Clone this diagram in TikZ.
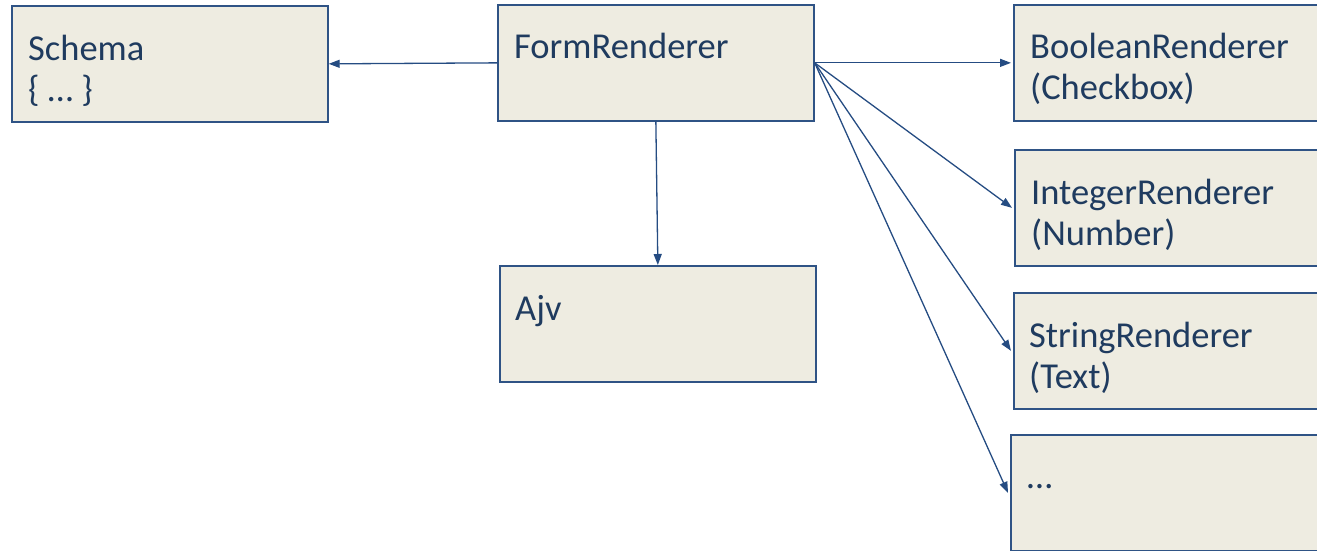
\documentclass[tikz,border=0pt]{standalone}
\usepackage{fontspec}
\setmainfont{Carlito}
\usetikzlibrary{arrows.meta}
\definecolor{boxfill}{HTML}{EEECE1}
\definecolor{boxline}{HTML}{2F5385}
\definecolor{txtcol}{HTML}{1F3B5F}
\definecolor{arrcol}{HTML}{254C82}
\tikzset{
  box/.style={draw=boxline, fill=boxfill, line width=1.7pt, minimum width=316pt, minimum height=116pt, anchor=north west, inner sep=0pt},
  txt/.style={anchor=base west, inner sep=0pt, text=txtcol, font=\fontsize{36.5}{41}\selectfont},
  conn/.style={draw=arrcol, line width=1.3pt, -{Triangle[length=11pt,width=8pt]}}
}
\begin{document}
\begin{tikzpicture}[x=1pt,y=-1pt]
\path[use as bounding box, clip] (0,0) rectangle (1317,551);
\node[box] (schema) at (11,5) {};
\node[box] (form) at (497,4) {};
\node[box] (ajv) at (499,265) {};
\node[box] (bool) at (1013,4) {};
\node[box] (int) at (1014,149) {};
\node[box] (str) at (1013,292) {};
\node[box] (more) at (1010,434) {};
\node[txt] (schemat) at ([xshift=17pt,yshift=-55pt]schema.north west) {\parbox[t]{290pt}{Schema\\\{ … \}}};
\node[txt] (formt) at ([xshift=17pt,yshift=-55pt]form.north west) {FormRenderer};
\node[txt] (ajvt) at ([xshift=16pt,yshift=-55pt]ajv.north west) {Ajv};
\node[txt] (boolt) at ([xshift=17pt,yshift=-55pt]bool.north west) {\parbox[t]{290pt}{BooleanRenderer\\(Checkbox)}};
\node[txt] (intt) at ([xshift=17pt,yshift=-55pt]int.north west) {\parbox[t]{290pt}{IntegerRenderer\\(Number)}};
\node[txt] (strt) at ([xshift=16pt,yshift=-55pt]str.north west) {\parbox[t]{290pt}{StringRenderer\\(Text)}};
\node[txt] (moret) at ([xshift=17pt,yshift=-54pt]more.north west) {…};
\draw[conn] (form.west) -- (schema.east);
\draw[conn] (form.south) -- (ajv.north);
\draw[conn] (form.east) -- ([xshift=-2pt]bool.west);
\draw[conn] (form.east) -- ([xshift=-2pt]int.west);
\draw[conn] (form.east) -- ([xshift=-2pt]str.west);
\draw[conn] (form.east) -- ([xshift=-2pt]more.west);
\end{tikzpicture}
\end{document}
